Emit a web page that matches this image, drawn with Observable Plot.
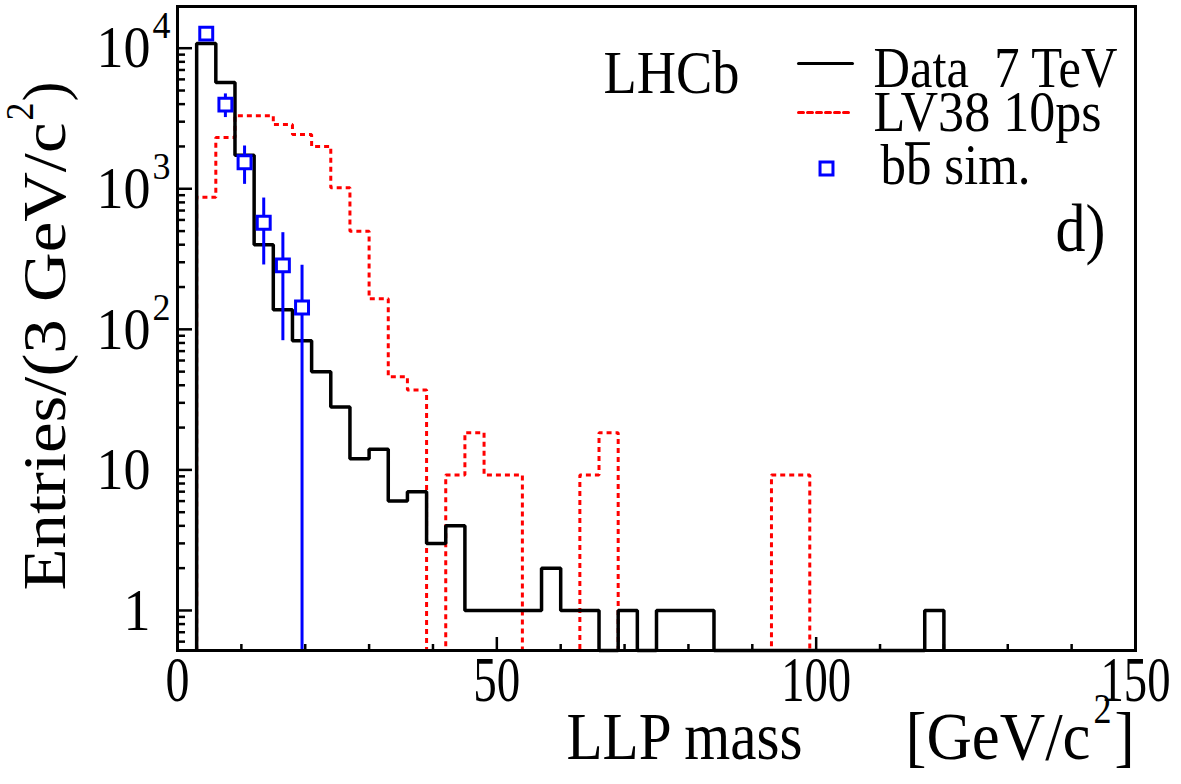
<!DOCTYPE html>
<html><head><meta charset="utf-8">
<script src="https://cdn.jsdelivr.net/npm/d3@7"></script>
<script src="https://cdn.jsdelivr.net/npm/@observablehq/plot@0.6"></script>
<style>html,body{margin:0;padding:0;background:#fff;} svg{display:block} svg text{font-family:"Liberation Serif","DejaVu Serif","Noto Serif","FreeSerif","Times New Roman",Times,serif !important;}</style>
</head><body><div id="chart"></div>
<script>
// ---------------- data ----------------
const binWidth = 3;
const dataBinStarts = [3,6,9,12,15,18,21,24,27,30,33,36,39,42,45,48,51,54,57,60,63,66,69,72,75,78,81,84,87,90,93,96,99,102,105,108,111,114,117];
const dataCounts    = [10800,5700,1730,400,138,83,50,28,12,14,6,7,3,4,1,1,1,1,2,1,1,0,1,0,1,1,1,0,0,0,0,0,0,0,0,0,0,0,1];
const lvBinStarts = [3,6,9,12,15,18,21,24,27,30,33,36,39,42,45,48,51,54,57,60,63,66,69,72,75,78,81,84,87,90,93,96];
const lvValues    = [870,2320,3310,3310,2860,2430,2000,1015,499,165,46,37,0,9.2,18.4,9.2,9.2,0,0,0,9.2,18.4,0,0,0,0,0,0,0,0,9.2,9.2];
const bbMass   = [4.5,7.5,10.5,13.5,16.5,19.5];
const bbValues = [12700,3970,1545,573,285,143];
const bbErrors = [1350,760,470,286,202,143];

const xMajorTicks = [0,50,100,150];
const xMinorTicks = [10,20,30,40,60,70,80,90,110,120,130,140];
const xTickLabels = ["0","50","100","150"];
const yMajorTicks = [1,10,100,1000,10000];
const yTickBase   = ["1","10","10","10","10"];
const yTickExp    = ["","","2","3","4"];
const yMinorTicks = [0.6,0.7,0.8,0.9,2,3,4,5,6,7,8,9,20,30,40,50,60,70,80,90,200,300,400,500,600,700,800,900,2000,3000,4000,5000,6000,7000,8000,9000];

const legendLabels = ["Data\u00a0 7 TeV", "LV38 10ps", "bb sim."];
const xTitle = ["LLP mass", "[GeV/c", "2", "]"];
const yTitle = ["Entries/(3 GeV/c", "2", ")"];

// ---------------- helpers ----------------
const yMin = 0.519, yMax = 19800;
function outline(starts, vals) {
  const pts = [{x: starts[0], v: 0}];
  starts.forEach((s, i) => pts.push({x: s, v: vals[i]}));
  pts.push({x: starts[starts.length - 1] + binWidth, v: 0});
  return pts;
}
const dataOutline = outline(dataBinStarts, dataCounts);
const lvOutline = outline(lvBinStarts, lvValues);
const bb = bbMass.map((m, i) => ({m, v: bbValues[i], lo: Math.max(bbValues[i] - bbErrors[i], yMin), hi: bbValues[i] + bbErrors[i]}));
const yMajorRows = yMajorTicks.map((t, i) => ({t, base: yTickBase[i], exp: yTickExp[i]}));
const hline = {draw(context, l) { context.moveTo(0, 0); context.lineTo(0, -l); }};
const BLUE = "#0000ff", RED = "#ff0000";
const SERIF = "'Liberation Serif', 'DejaVu Serif', 'Noto Serif', 'FreeSerif', 'Times New Roman', Times, serif";

const svg = Plot.plot({
  width: 1181, height: 784,
  marginLeft: 177, marginRight: 46, marginTop: 6, marginBottom: 134,
  style: {fontFamily: SERIF, background: "white", overflow: "visible"},
  x: {domain: [0, 150], axis: null},
  y: {type: "log", domain: [yMin, yMax], axis: null},
  marks: [
    Plot.line(lvOutline, {x: "x", y: d => Math.max(d.v, yMin), curve: "step-after", stroke: RED, strokeWidth: 3, strokeDasharray: "5,4", strokeLinejoin: "miter", strokeLinecap: "butt"}),
    Plot.line(dataOutline, {x: "x", y: d => Math.max(d.v, yMin), curve: "step-after", stroke: "black", strokeWidth: 3.5, strokeLinejoin: "miter", strokeLinecap: "butt"}),
    Plot.ruleX(bb, {x: "m", y1: "lo", y2: "hi", stroke: BLUE, strokeWidth: 3}),
    Plot.dot(bb, {x: "m", y: "v", symbol: "square", r: 7.3, stroke: BLUE, fill: "white", strokeWidth: 3}),
    Plot.ruleY(yMajorTicks, {y: d => d, x1: 0, x2: 0, insetRight: -15, stroke: "black", strokeWidth: 2.5}),
    Plot.ruleY(yMinorTicks, {y: d => d, x1: 0, x2: 0, insetRight: -8, stroke: "black", strokeWidth: 2.5}),
    Plot.ruleX(xMajorTicks, {x: d => d, y1: yMin, y2: yMin, insetTop: -13, stroke: "black", strokeWidth: 2.5}),
    Plot.ruleX(xMinorTicks, {x: d => d, y1: yMin, y2: yMin, insetTop: -6, stroke: "black", strokeWidth: 2.5}),
    Plot.frame({stroke: "black", strokeWidth: 3}),
    Plot.text(xMajorTicks, {x: d => d, text: (d, i) => xTickLabels[i], frameAnchor: "bottom", dy: 30, lineAnchor: "middle", textAnchor: "middle", fontSize: 64, fontFamily: SERIF}),
    Plot.text(yMajorRows, {y: "t", text: "base", frameAnchor: "left", dx: -27, textAnchor: "end", lineAnchor: "middle", fontSize: 60, fontFamily: SERIF}),
    Plot.text(yMajorRows.filter(d => d.exp), {y: "t", text: "exp", frameAnchor: "left", dx: -25, dy: -22, textAnchor: "start", lineAnchor: "middle", fontSize: 38, fontFamily: SERIF}),
    Plot.text([xTitle[0]], {text: d => d, frameAnchor: "bottom-left", dx: 389, dy: 108, textAnchor: "start", lineAnchor: "bottom", fontSize: 68, fontFamily: SERIF}),
    Plot.text([xTitle[1]], {text: d => d, frameAnchor: "bottom-left", dx: 728, dy: 108, textAnchor: "start", lineAnchor: "bottom", fontSize: 68, fontFamily: SERIF}),
    Plot.text([xTitle[2]], {text: d => d, frameAnchor: "bottom-left", dx: 916, dy: 72, textAnchor: "start", lineAnchor: "bottom", fontSize: 42, fontFamily: SERIF}),
    Plot.text([xTitle[3]], {text: d => d, frameAnchor: "bottom-left", dx: 937, dy: 108, textAnchor: "start", lineAnchor: "bottom", fontSize: 68, fontFamily: SERIF}),
    Plot.text([yTitle[0]], {text: d => d, frameAnchor: "top-left", dx: -113, dy: 584, rotate: -90, textAnchor: "start", lineAnchor: "bottom", fontSize: 62, fontFamily: SERIF}),
    Plot.text([yTitle[1]], {text: d => d, frameAnchor: "top-left", dx: -145, dy: 114, rotate: -90, textAnchor: "start", lineAnchor: "bottom", fontSize: 40, fontFamily: SERIF}),
    Plot.text([yTitle[2]], {text: d => d, frameAnchor: "top-left", dx: -113, dy: 95, rotate: -90, textAnchor: "start", lineAnchor: "bottom", fontSize: 62, fontFamily: SERIF}),
    Plot.text(["LHCb"], {text: d => d, frameAnchor: "top-left", dx: 426, dy: 86, textAnchor: "start", lineAnchor: "bottom", fontSize: 62, fontFamily: SERIF}),
    Plot.vector([0], {frameAnchor: "top-left", dx: 621, dy: 57, length: 54, rotate: 90, anchor: "start", shape: hline, stroke: "black", strokeWidth: 3}),
    Plot.vector([0], {frameAnchor: "top-left", dx: 621, dy: 106, length: 54, rotate: 90, anchor: "start", shape: hline, stroke: RED, strokeWidth: 3, strokeDasharray: "5,4"}),
    Plot.dot([0], {frameAnchor: "top-left", dx: 649, dy: 162, symbol: "square", r: 7.3, stroke: BLUE, fill: "white", strokeWidth: 3}),
    Plot.text([legendLabels[0]], {text: d => d, frameAnchor: "top-left", dx: 696, dy: 80, textAnchor: "start", lineAnchor: "bottom", fontSize: 57, fontFamily: SERIF}),
    Plot.text([legendLabels[1]], {text: d => d, frameAnchor: "top-left", dx: 696, dy: 124, textAnchor: "start", lineAnchor: "bottom", fontSize: 57, fontFamily: SERIF}),
    Plot.text([legendLabels[2]], {text: d => d, frameAnchor: "top-left", dx: 703, dy: 177, textAnchor: "start", lineAnchor: "bottom", fontSize: 57, fontFamily: SERIF}),
    Plot.text(["_"], {text: d => d, frameAnchor: "top-left", dx: 728, dy: 131, textAnchor: "start", lineAnchor: "bottom", fontSize: 57, fontFamily: SERIF}),
    Plot.text(["d)"], {text: d => d, frameAnchor: "top-left", dx: 878, dy: 244, textAnchor: "start", lineAnchor: "bottom", fontSize: 68, fontFamily: SERIF})
  ]
});

const textWidths = new Map([
  ["0", 24], ["50", 47], ["100", 70], ["150", 70],
  ["1", 27], ["10", 54], ["2", 18], ["3", 18], ["4", 18],
  ["LLP mass", 236], ["[GeV/c", 185], ["]", 20],
  ["Entries/(3 GeV/c", 468], [")", 20],
  ["LHCb", 136], [legendLabels[0], 244], [legendLabels[1], 228], [legendLabels[2], 150],
  ["_", 24], ["d)", 50]
]);
d3.select(svg).selectAll("text").each(function() {
  this.setAttribute("font-family", SERIF);
  this.style.setProperty("font-family", SERIF, "important");
  const t = this.textContent;
  if (textWidths.has(t)) {
    this.setAttribute("textLength", textWidths.get(t));
    this.setAttribute("lengthAdjust", "spacingAndGlyphs");
  }
});
document.getElementById("chart").appendChild(svg);
</script>
</body></html>
